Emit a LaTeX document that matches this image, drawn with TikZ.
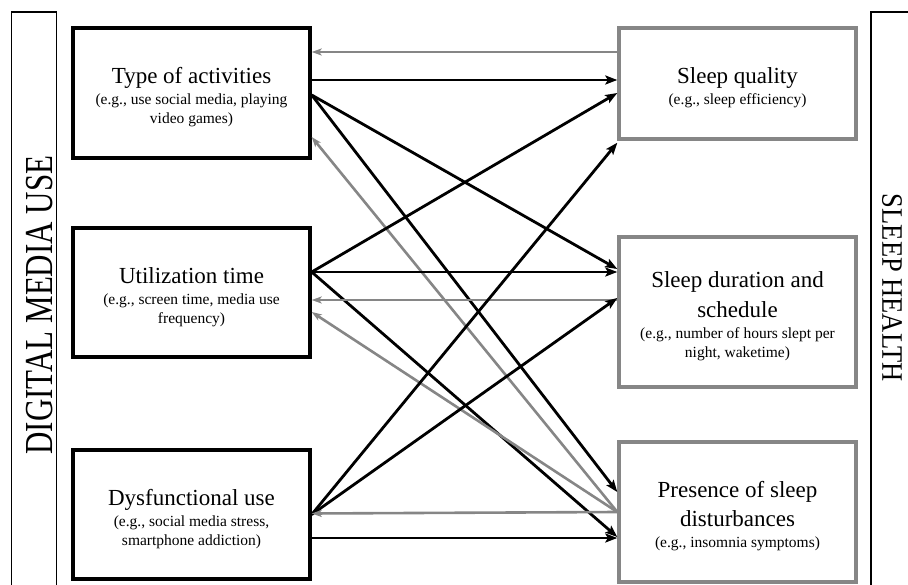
\documentclass[tikz,border=0pt]{standalone}
\usepackage{fontspec}
\setmainfont{Liberation Serif}
\usetikzlibrary{arrows.meta,calc}

\definecolor{boxgray}{RGB}{134,134,134}
\newcommand{\subtxt}[1]{{\fontsize{15.5}{18}\selectfont #1}}
\newcommand{\topstrut}{\rule{0pt}{25pt}}

\tikzset{
    usebox/.style={draw=black, line width=3.4pt, minimum width=237pt, inner sep=0pt, align=center, font=\fontsize{23}{30}\selectfont},
    healthbox/.style={usebox, draw=boxgray},
    frame/.style={draw=black, line width=1.3pt},
    fwd/.style={draw=black, line width=2.8pt, -{Stealth[length=12pt,width=9pt,inset=2.5pt]}},
    back/.style={draw=boxgray, line width=2.6pt, -{Stealth[length=10pt,width=7pt,inset=2.5pt]}},
}

\begin{document}
\begin{tikzpicture}[x=1pt,y=1pt,yscale=-1,xscale=1]
        \useasboundingbox (0,0) rectangle (908,585);
        %Rect (left frame)
        \draw[frame] (11.7,12) rectangle (56.7,600);
        %Rect (right frame)
        \draw[frame] (871,12) rectangle (930,600);

        % Text Node
        \node[rotate=90, font=\fontsize{31}{31}\selectfont] (dmu) at (39.5,305) {\scalebox{1}[1.28]{DIGITAL MEDIA USE}};
        % Text Node
        \node[rotate=-90, font=\fontsize{26.5}{26.5}\selectfont] (sh) at (892,288) {\scalebox{1}[1.12]{SLEEP HEALTH}};

        %Rect [digital media use]
        \node[usebox, minimum height=130pt] (act) at (191.5,93) {\topstrut Type of activities\\[-9pt]\subtxt{(e.g., use social media, playing}\\[-11pt]\subtxt{video games)}};
        \node[usebox, minimum height=129pt] (util) at (191.5,292.5) {\topstrut Utilization time\\[-9pt]\subtxt{(e.g., screen time, media use}\\[-11pt]\subtxt{frequency)}};
        \node[usebox, minimum height=129pt] (dys) at (191.5,514.5) {\topstrut Dysfunctional use\\[-9pt]\subtxt{(e.g., social media stress,}\\[-11pt]\subtxt{smartphone addiction)}};

        %Rect [sleep health]
        \node[healthbox, minimum height=111pt] (qual) at (737.5,83.5) {\topstrut Sleep quality\\[-9pt]\subtxt{(e.g., sleep efficiency)}};
        \node[healthbox, minimum height=150pt] (dur) at (737.5,312) {\topstrut Sleep duration and\\[0pt]schedule\\[-9pt]\subtxt{(e.g., number of hours slept per}\\[-11pt]\subtxt{night, waketime)}};
        \node[healthbox, minimum height=140pt] (dist) at (737.5,512) {\topstrut Presence of sleep\\[-1pt]disturbances\\[-9pt]\subtxt{(e.g., insomnia symptoms)}};

        %Straight Lines
        \draw[back] ($(qual.west)+(0,-31.5)$) -- ($(act.east)+(0,-41)$);
        \draw[fwd] ($(act.east)+(0,-13)$) -- ($(qual.west)+(0,-3.5)$);
        \draw[fwd] ($(act.east)+(0,2)$) -- ($(dur.west)+(0,-43)$);
        \draw[fwd] ($(act.east)+(0,2)$) -- ($(dist.west)+(0,-20)$);
        \draw[back] (dist.west) -- ($(act.east)+(0,44)$);
        %Straight Lines
        \draw[fwd] ($(util.east)+(0,-20.5)$) -- ($(qual.west)+(0,9.5)$);
        \draw[fwd] ($(util.east)+(0,-20.5)$) -- ($(dur.west)+(0,-40)$);
        \draw[fwd] ($(util.east)+(0,-20.5)$) -- ($(dist.west)+(0,25)$);
        \draw[back] ($(dur.west)+(0,-12)$) -- ($(util.east)+(0,7.5)$);
        \draw[back] (dist.west) -- ($(util.east)+(0,19.5)$);
        %Straight Lines
        \draw[fwd] (dys.east) -- ($(qual.south west)+(0,2)$);
        \draw[fwd] (dys.east) -- ($(dur.west)+(0,-14)$);
        \draw[back] (dist.west) -- ($(dys.east)+(0,-1)$);
        \draw[fwd] ($(dys.east)+(0,23.5)$) -- ($(dist.west)+(0,26)$);
\end{tikzpicture}
\end{document}
